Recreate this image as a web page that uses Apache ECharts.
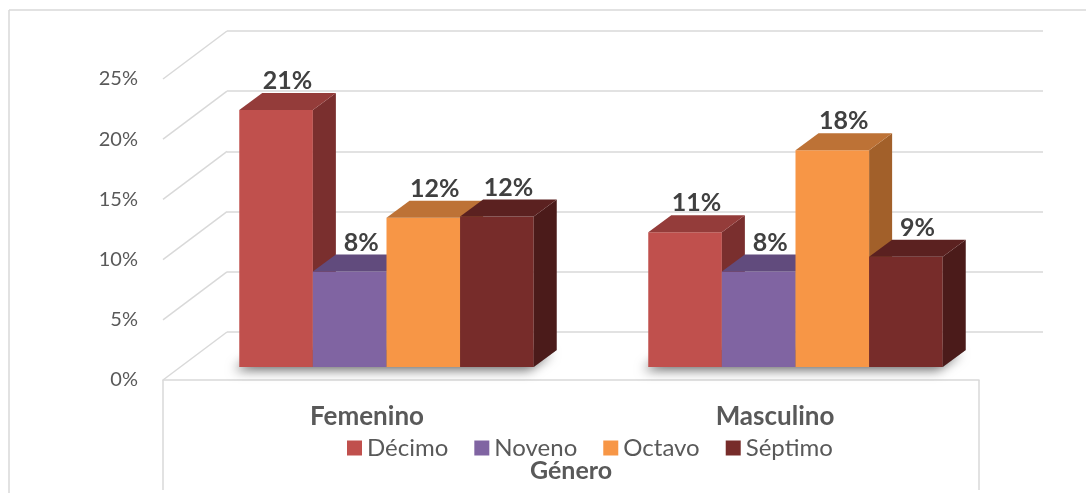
<!DOCTYPE html>
<html>
	<head>
		<meta charset="utf-8">
		<title>Género</title>
		<script src="https://cdn.jsdelivr.net/npm/echarts@6/dist/echarts.min.js"></script>
		<style>
			html, body { margin: 0; padding: 0; background: #fff; }
		</style>
	</head>
	<body>
		<div id="main" style="width: 1086px;height:493px;"></div>
		<script type="text/javascript">
		// datos
		var generos = ['Femenino', 'Masculino'];
		var niveles = ['Décimo', 'Noveno', 'Octavo', 'Séptimo'];
		var decimo = [0.21, 0.11];
		var noveno = [0.078, 0.078];
		var octavo = [0.122, 0.177];
		var septimo = [0.123, 0.09];
		var ticks = [0, 0.05, 0.10, 0.15, 0.20, 0.25];

		var valores = [decimo, noveno, octavo, septimo];
		// frente, tapa, lado
		var colores = [
			['#C0504D', '#943c3a', '#7a2f2e'],
			['#8064A2', '#614b7d', '#4f3d66'],
			['#F79646', '#bd7236', '#a2602a'],
			['#772C2A', '#5b2120', '#4b1b1a']
		];
		var DX = 23, DY = 17;     // profundidad de cada barra
		var WX = 64, WY = 48;     // profundidad del piso / pared
		var FONT = 'Lato';

		var myChart = echarts.init(document.getElementById('main'));

		function barra(k) {
			return function (params, api) {
				var cat = api.value(0), val = api.value(1);
				var base = api.coord([cat, 0]);
				var tope = api.coord([cat, val]);
				var w = api.size([1, 0])[0] * 0.18;
				var x0 = base[0] + (k - 2) * w;
				var yb = base[1], yt = tope[1];
				var c = colores[k];
				return {
					type: 'group',
					children: [
						{ type: 'rect', shape: { x: x0, y: yt, width: w, height: yb - yt }, style: { fill: c[0] } },
						{ type: 'polygon', shape: { points: [[x0 + w, yt], [x0 + w + DX, yt - DY], [x0 + w + DX, yb - DY], [x0 + w, yb]] }, style: { fill: c[2] } },
						{ type: 'polygon', shape: { points: [[x0, yt], [x0 + DX, yt - DY], [x0 + w + DX, yt - DY], [x0 + w, yt]] }, style: { fill: c[1] } },
						{ type: 'text', x: x0 + w / 2 + DX / 2, y: yt - DY - 12, style: {
							text: Math.round(val * 100) + '%', fill: '#404040', font: 'bold 25px ' + FONT,
							align: 'center', verticalAlign: 'middle' } }
					]
				};
			};
		}

		function sombra(params, api) {
			var base = api.coord([api.value(0), 0]);
			var w = api.size([1, 0])[0] * 0.18;
			var L = base[0] - 2 * w, R = base[0] + 2 * w, y = base[1];
			return {
				type: 'polygon',
				shape: { points: [[L, y], [L + DX, y - DY], [R + DX, y - DY], [R, y]] },
				style: { fill: '#999', shadowBlur: 12, shadowColor: 'rgba(0,0,0,0.6)', shadowOffsetX: -5, shadowOffsetY: 3 }
			};
		}

		function diagonal(params, api) {
			var p = api.coord([0, api.value(1)]);
			var x = params.coordSys.x;
			return {
				type: 'line',
				shape: { x1: x, y1: p[1], x2: x + WX, y2: p[1] - WY },
				style: { stroke: '#d9d9d9', lineWidth: 1.5 }
			};
		}

		var series = [
			{ type: 'custom', xAxisIndex: 1, yAxisIndex: 1, renderItem: diagonal, silent: true,
			  data: ticks.map(function (t) { return [0, t]; }) },
			{ type: 'custom', xAxisIndex: 2, yAxisIndex: 2, renderItem: sombra, silent: true,
			  data: generos.map(function (g, i) { return [i, 0]; }) }
		];
		for (var k = 0; k < niveles.length; k++) {
			series.push({
				name: niveles[k],
				type: 'custom',
				xAxisIndex: 2,
				yAxisIndex: 2,
				itemStyle: { color: colores[k][0] },
				renderItem: barra(k),
				data: valores[k].map(function (v, i) { return [i, v]; })
			});
		}

		var yBase = { type: 'value', min: 0, max: 0.25, interval: 0.05 };

		myChart.setOption({
			animation: false,
			textStyle: { fontFamily: FONT },
			grid: [
				{ left: 227, top: 31, width: 816, height: 301 },
				{ left: 163, top: 79, width: 816, height: 301 },
				{ left: 182, top: 61, width: 818, height: 306 }
			],
			legend: {
				data: niveles,
				left: 342,
				top: 431,
				icon: 'rect',
				itemWidth: 15,
				itemHeight: 15,
				itemGap: 26,
				textStyle: { fontSize: 24, color: '#595959', fontFamily: FONT }
			},
			xAxis: [
				{ gridIndex: 0, type: 'category', data: generos, show: false },
				{
					gridIndex: 1, type: 'category', data: generos,
					axisLine: { lineStyle: { color: '#d9d9d9', width: 1.5 } },
					axisTick: { show: false },
					axisLabel: { margin: 24, fontSize: 26, fontWeight: 'bold', color: '#595959', fontFamily: FONT },
					name: 'Género',
					nameLocation: 'middle',
					nameGap: 78,
					nameTextStyle: { fontSize: 25, fontWeight: 'bold', color: '#595959', fontFamily: FONT }
				},
				{ gridIndex: 2, type: 'category', data: generos, show: false }
			],
			yAxis: [
				Object.assign({ gridIndex: 0, axisLine: { show: false }, axisTick: { show: false }, axisLabel: { show: false },
					splitLine: { lineStyle: { color: '#d9d9d9', width: 1.5 } } }, yBase),
				Object.assign({ gridIndex: 1, axisLine: { show: false }, axisTick: { show: false }, splitLine: { show: false },
					axisLabel: { margin: 25, fontSize: 20, color: '#595959', fontFamily: FONT,
						formatter: function (v) { return Math.round(v * 100) + '%'; } } }, yBase),
				Object.assign({ gridIndex: 2, show: false, splitLine: { show: false } }, yBase)
			],
			graphic: [
				// marco exterior y bordes del piso
				{ type: 'line', shape: { x1: 9, y1: 10, x2: 1086, y2: 10 }, style: { stroke: '#d9d9d9', lineWidth: 1.5 } },
				{ type: 'line', shape: { x1: 9, y1: 10, x2: 9, y2: 493 }, style: { stroke: '#d9d9d9', lineWidth: 1.5 } },
				{ type: 'line', shape: { x1: 163, y1: 380, x2: 163, y2: 490 }, style: { stroke: '#d9d9d9', lineWidth: 1.5 } },
				{ type: 'line', shape: { x1: 979, y1: 380, x2: 979, y2: 490 }, style: { stroke: '#d9d9d9', lineWidth: 1.5 } }
			],
			series: series
		});
		</script>
	</body>
</html>
